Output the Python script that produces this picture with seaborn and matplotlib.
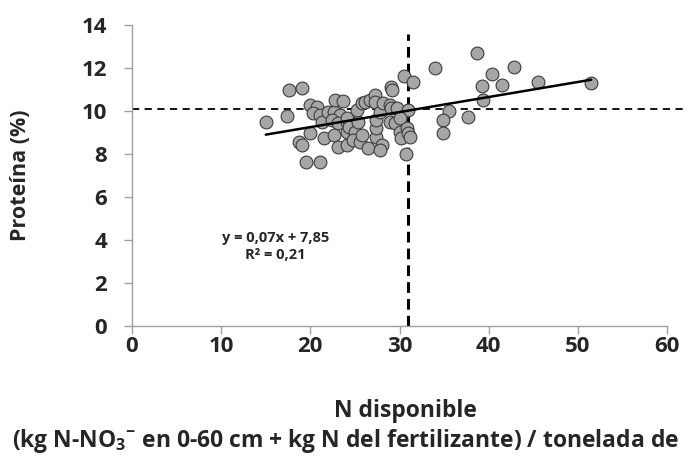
import numpy as np
import pandas as pd
import matplotlib
matplotlib.use("Agg")
import matplotlib.pyplot as plt
import seaborn as sns

# ---- data ----
n_disponible = [15.0, 17.4, 17.6, 19.1, 18.7, 19.1, 19.5, 21.1, 20.0, 20.0,
                20.7, 20.3, 21.1, 21.3, 21.5, 22.0, 22.6, 22.8, 23.7, 23.3,
                22.4, 23.1, 22.6, 23.1, 24.1, 24.1, 24.1, 24.6, 24.1, 24.3,
                25.0, 25.4, 25.2, 25.8, 26.1, 24.8, 25.6, 25.8, 26.5, 26.7,
                27.25, 27.25, 27.4, 27.4, 27.4, 27.8, 28.2, 28.0, 27.8, 28.9,
                29.1, 29.2, 29.1, 29.7, 28.9, 29.5, 30.05, 30.2, 30.5, 30.7,
                31.0, 31.5, 30.05, 30.8, 31.0, 31.2, 34.0, 35.5, 34.9, 34.9,
                37.7, 38.65, 39.2, 39.4, 40.4, 41.5, 42.8, 45.5, 51.5]
proteina = [9.47, 9.77, 11.0, 11.07, 8.55, 8.4, 7.62, 7.65, 8.96, 10.3,
            10.2, 9.9, 9.8, 9.5, 8.73, 9.97, 9.97, 10.5, 10.48, 9.81,
            9.58, 9.42, 8.88, 8.34, 8.4, 9.04, 9.5, 9.42, 9.66, 9.27,
            9.04, 9.5, 10.05, 10.35, 10.43, 8.65, 8.57, 8.88, 8.3, 10.5,
            10.76, 10.43, 8.81, 9.19, 9.58, 9.97, 10.35, 8.42, 8.2, 10.28,
            11.1, 10.98, 10.12, 10.12, 9.5, 9.42, 9.04, 8.73, 11.64, 7.98,
            10.05, 11.36, 9.66, 9.19, 8.96, 8.81, 12.0, 10.0, 9.58, 8.96,
            9.7, 12.68, 11.16, 10.51, 11.7, 11.21, 12.03, 11.36, 11.29]

slope = 0.07
intercept = 7.85
umbral_proteina = 10.1
umbral_n = 31.0

x_ticks = [0, 10, 20, 30, 40, 50, 60]
y_ticks = [0, 2, 4, 6, 8, 10, 12, 14]

eq_text = "y = 0,07x + 7,85\nR² = 0,21"
y_label = "Proteína (%)"
x_label_1 = "N disponible"
x_label_2 = "(kg N-NO$_3$$^{\\mathbf{-}}$ en 0-60 cm + kg N del fertilizante) / tonelada de"

df = pd.DataFrame({"N": n_disponible, "P": proteina})

sns.set_style("white")
FONT = "Open Sans"
plt.rcParams["font.family"] = [FONT, "DejaVu Sans"]
plt.rcParams["mathtext.fontset"] = "custom"
plt.rcParams["mathtext.rm"] = FONT + ":bold"
plt.rcParams["mathtext.bf"] = FONT + ":bold"
plt.rcParams["mathtext.default"] = "bf"

fig = plt.figure(figsize=(6.9, 4.58), dpi=100)
ax = fig.add_axes([132 / 690, 1 - 326 / 458, (667 - 132) / 690, (326 - 25) / 458])

# reference lines
ax.plot([0, 62.2], [umbral_proteina, umbral_proteina], color="black",
        lw=1.3, ls=(0, (4, 3)), clip_on=False, zorder=1)
ax.plot([umbral_n, umbral_n], [0, 13.6], color="black",
        lw=2.2, ls=(0, (3.5, 2)), clip_on=False, zorder=1)

sns.scatterplot(data=df, x="N", y="P", ax=ax, s=85, color="#a6a6a6",
                edgecolor="#3c3c3c", linewidth=0.8, zorder=3, legend=False)

xs = np.array([min(n_disponible), max(n_disponible)])
ax.plot(xs, slope * xs + intercept, color="black", lw=1.8, zorder=4)

ax.set_xlim(0, 60)
ax.set_ylim(0, 14)
ax.set_xticks(x_ticks)
ax.set_yticks(y_ticks)
ax.set_xticklabels([str(t) for t in x_ticks], fontsize=16, fontweight="bold")
ax.set_yticklabels([str(t) for t in y_ticks], fontsize=16, fontweight="bold")
for s in ["top", "right"]:
    ax.spines[s].set_visible(False)
for s in ["left", "bottom"]:
    ax.spines[s].set_color("#a0a0a0")
    ax.spines[s].set_linewidth(1.0)
ax.tick_params(axis="both", direction="out", length=6, width=1.0,
               color="#a0a0a0", bottom=True, left=True)
ax.tick_params(axis="y", pad=12)
ax.tick_params(axis="x", pad=1)
ax.set_xlabel("")
ax.set_ylabel(y_label, fontsize=15.5, fontweight="bold")
ax.yaxis.set_label_coords(-0.188, 0.5)

ax.text(16.1, 3.7, eq_text, ha="center", va="center", fontsize=10.5,
        fontweight="bold", linespacing=1.3)

fig.text(405 / 690, 1 - 411 / 458, x_label_1, ha="center", va="center",
         fontsize=16.5, fontweight="bold")
fig.text(12 / 690, 1 - 441 / 458, x_label_2, ha="left", va="center",
         fontsize=16.5, fontweight="bold")

fig.savefig("out.png", dpi=100)
